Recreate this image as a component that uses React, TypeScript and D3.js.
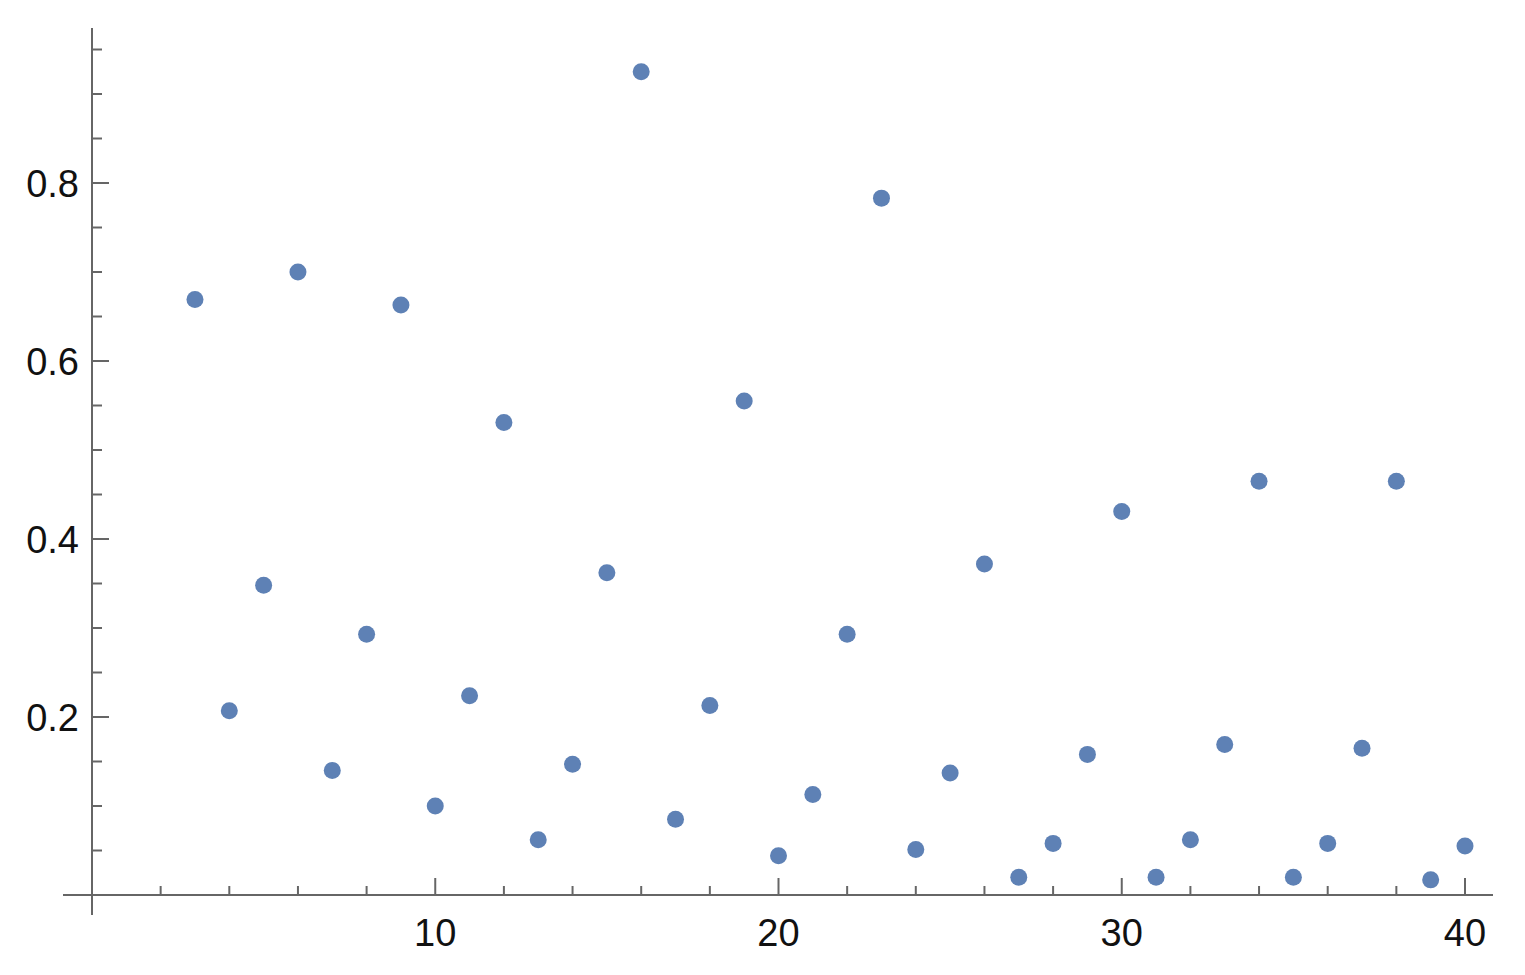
import React from "react";
import * as d3 from "d3";

const xValues = [3,4,5,6,7,8,9,10,11,12,13,14,15,16,17,18,19,20,21,22,23,24,25,26,27,28,29,30,31,32,33,34,35,36,37,38,39,40];
const yValues = [0.669,0.207,0.348,0.700,0.140,0.293,0.663,0.100,0.224,0.531,0.062,0.147,0.362,0.925,0.085,0.213,0.555,0.044,0.113,0.293,0.783,0.051,0.137,0.372,0.020,0.058,0.158,0.431,0.020,0.062,0.169,0.465,0.020,0.058,0.165,0.465,0.017,0.055];
const xTickLabels = [10, 20, 30, 40];
const yTickLabels = [0.2, 0.4, 0.6, 0.8];

export default function App() {
  const W = 1525, H = 975;
  const x = d3.scaleLinear().domain([0, 40]).range([92, 1465]);
  const y = d3.scaleLinear().domain([0, 0.8]).range([895, 183]);
  const axisColor = "#666666";
  const font = "'Liberation Sans', Arial, sans-serif";
  const xMinor = d3.range(2, 41, 2).filter(v => v % 10 !== 0);
  const yMinor = d3.range(0.05, 0.97, 0.05).filter(v => Math.abs(v / 0.2 - Math.round(v / 0.2)) > 1e-6);
  const xMax = x.invert(1493);
  const yMax = y.invert(28);
  const yMin = y.invert(915);
  const xMin = x.invert(63);
  return (
    <svg width={W} height={H} style={{ position: "absolute", left: 0, top: 0, background: "#fff" }}>
      {/* axes */}
      <line x1={x(xMin)} x2={x(xMax)} y1={y(0)} y2={y(0)} stroke={axisColor} strokeWidth={2} />
      <line x1={x(0)} x2={x(0)} y1={y(yMin)} y2={y(yMax)} stroke={axisColor} strokeWidth={2} />
      {xMinor.map(v => (
        <line key={"xm" + v} x1={x(v)} x2={x(v)} y1={y(0)} y2={y(0) - 9} stroke={axisColor} strokeWidth={2} />
      ))}
      {xTickLabels.map(v => (
        <g key={"xt" + v}>
          <line x1={x(v)} x2={x(v)} y1={y(0)} y2={y(0) - 17} stroke={axisColor} strokeWidth={2} />
          <text x={x(v)} y={y(0) + 51} textAnchor="middle" fontFamily={font} fontSize={38} fill="#111">{v}</text>
        </g>
      ))}
      {yMinor.map(v => (
        <line key={"ym" + v} x1={x(0)} x2={x(0) + 10} y1={y(v)} y2={y(v)} stroke={axisColor} strokeWidth={2} />
      ))}
      {yTickLabels.map(v => (
        <g key={"yt" + v}>
          <line x1={x(0)} x2={x(0) + 17} y1={y(v)} y2={y(v)} stroke={axisColor} strokeWidth={2} />
          <text x={x(0) - 13} y={y(v) + 14} textAnchor="end" fontFamily={font} fontSize={38} fill="#111">{v.toFixed(1)}</text>
        </g>
      ))}
      {xValues.map((xv, i) => (
        <circle key={"p" + i} cx={x(xv)} cy={y(yValues[i])} r={8.5} fill="#5E81B5" />
      ))}
    </svg>
  );
}
